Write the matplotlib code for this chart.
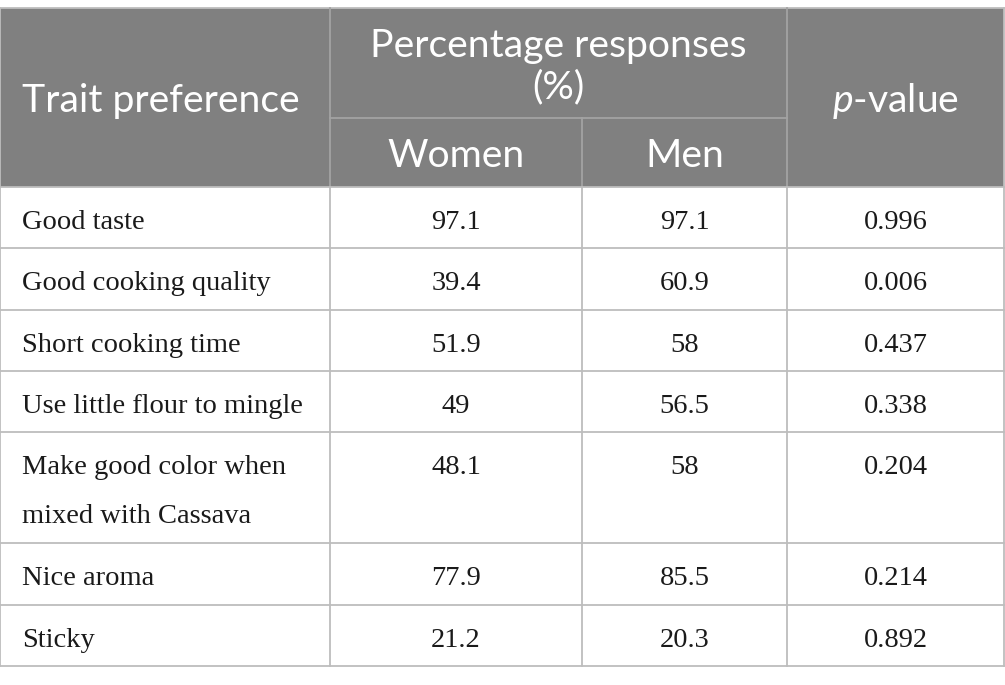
import matplotlib
matplotlib.use("Agg")
import matplotlib.pyplot as plt
from matplotlib.patches import Rectangle

# ---- data ----
traits = ["Good taste", "Good cooking quality", "Short cooking time",
          "Use little flour to mingle", "Make good color when\nmixed with Cassava",
          "Nice aroma", "Sticky"]
women = ["97.1", "39.4", "51.9", "49", "48.1", "77.9", "21.2"]
men = ["97.1", "60.9", "58", "56.5", "58", "85.5", "20.3"]
pvalues = ["0.996", "0.006", "0.437", "0.338", "0.204", "0.214", "0.892"]
header_group = ["Percentage responses", "(%)"]
header_trait = "Trait preference"
header_sub = ["Women", "Men"]

# ---- layout (pixels) ----
W, H = 1005, 685
col_x = [0, 330, 582, 787, 1004]
head_top, head_mid, head_bot = 8, 118, 187
row_edges = [187, 248, 310, 371, 432, 543, 605, 666]
header_bg = "#808080"
grid_c = "#bdbdbd"
head_line_c = "#a3a3a3"
head_font = "Lato"
body_font = "Liberation Serif"
head_size = 28.2
body_size = 20.5

plt.rcParams["mathtext.fontset"] = "custom"
plt.rcParams["mathtext.it"] = "Lato:italic"
plt.rcParams["mathtext.rm"] = "Lato"

fig = plt.figure(figsize=(W / 100, H / 100), dpi=100)
ax = fig.add_axes([0, 0, 1, 1])
ax.set_xlim(0, W)
ax.set_ylim(H, 0)
ax.axis("off")

ax.add_patch(Rectangle((col_x[0], head_top), col_x[-1] - col_x[0], head_bot - head_top,
                       facecolor=header_bg, edgecolor="none", zorder=0))

lw = 1.3
# header lines
ax.plot([col_x[0], col_x[-1]], [head_top, head_top], color=grid_c, lw=lw)
ax.plot([col_x[1], col_x[3]], [head_mid, head_mid], color=head_line_c, lw=lw)
for x in [col_x[1], col_x[3]]:
    ax.plot([x, x], [head_top, head_bot], color=head_line_c, lw=lw)
ax.plot([col_x[2], col_x[2]], [head_mid, head_bot], color=head_line_c, lw=lw)
# body lines
for y in row_edges:
    ax.plot([col_x[0], col_x[-1]], [y, y], color=grid_c, lw=lw)
for x in col_x:
    ax.plot([x, x], [head_bot, row_edges[-1]], color=grid_c, lw=lw)
ax.plot([col_x[0], col_x[0]], [head_top, head_bot], color=grid_c, lw=lw)
ax.plot([col_x[-1], col_x[-1]], [head_top, head_bot], color=grid_c, lw=lw)

# header text (baseline aligned)
hkw = dict(color="white", fontsize=head_size, family=head_font, va="baseline")
ax.text(22, 112, header_trait, ha="left", **hkw)
gx = (col_x[1] + col_x[3]) / 2
ax.text(gx, 57, header_group[0], ha="center", **hkw)
ax.text(gx, 98, header_group[1], ha="center", **hkw)
ax.text((col_x[1] + col_x[2]) / 2, 167, header_sub[0], ha="center", **hkw)
ax.text((col_x[2] + col_x[3]) / 2, 167, header_sub[1], ha="center", **hkw)
ax.text((col_x[3] + col_x[4]) / 2, 112, r"$\it{p}$-value", ha="center", **hkw)

# body text (baseline aligned)
bkw = dict(color="#1a1a1a", fontsize=body_size, family=body_font, va="baseline")
base_off = 42
line_gap = 49
for i, t in enumerate(traits):
    top = row_edges[i]
    yb = top + base_off
    for k, line in enumerate(t.split("\n")):
        ax.text(22, yb + k * line_gap, line, ha="left", **bkw)
    ax.text((col_x[1] + col_x[2]) / 2, yb, women[i], ha="center", **bkw)
    ax.text((col_x[2] + col_x[3]) / 2, yb, men[i], ha="center", **bkw)
    ax.text((col_x[3] + col_x[4]) / 2, yb, pvalues[i], ha="center", **bkw)

fig.savefig("out.png", dpi=100)
